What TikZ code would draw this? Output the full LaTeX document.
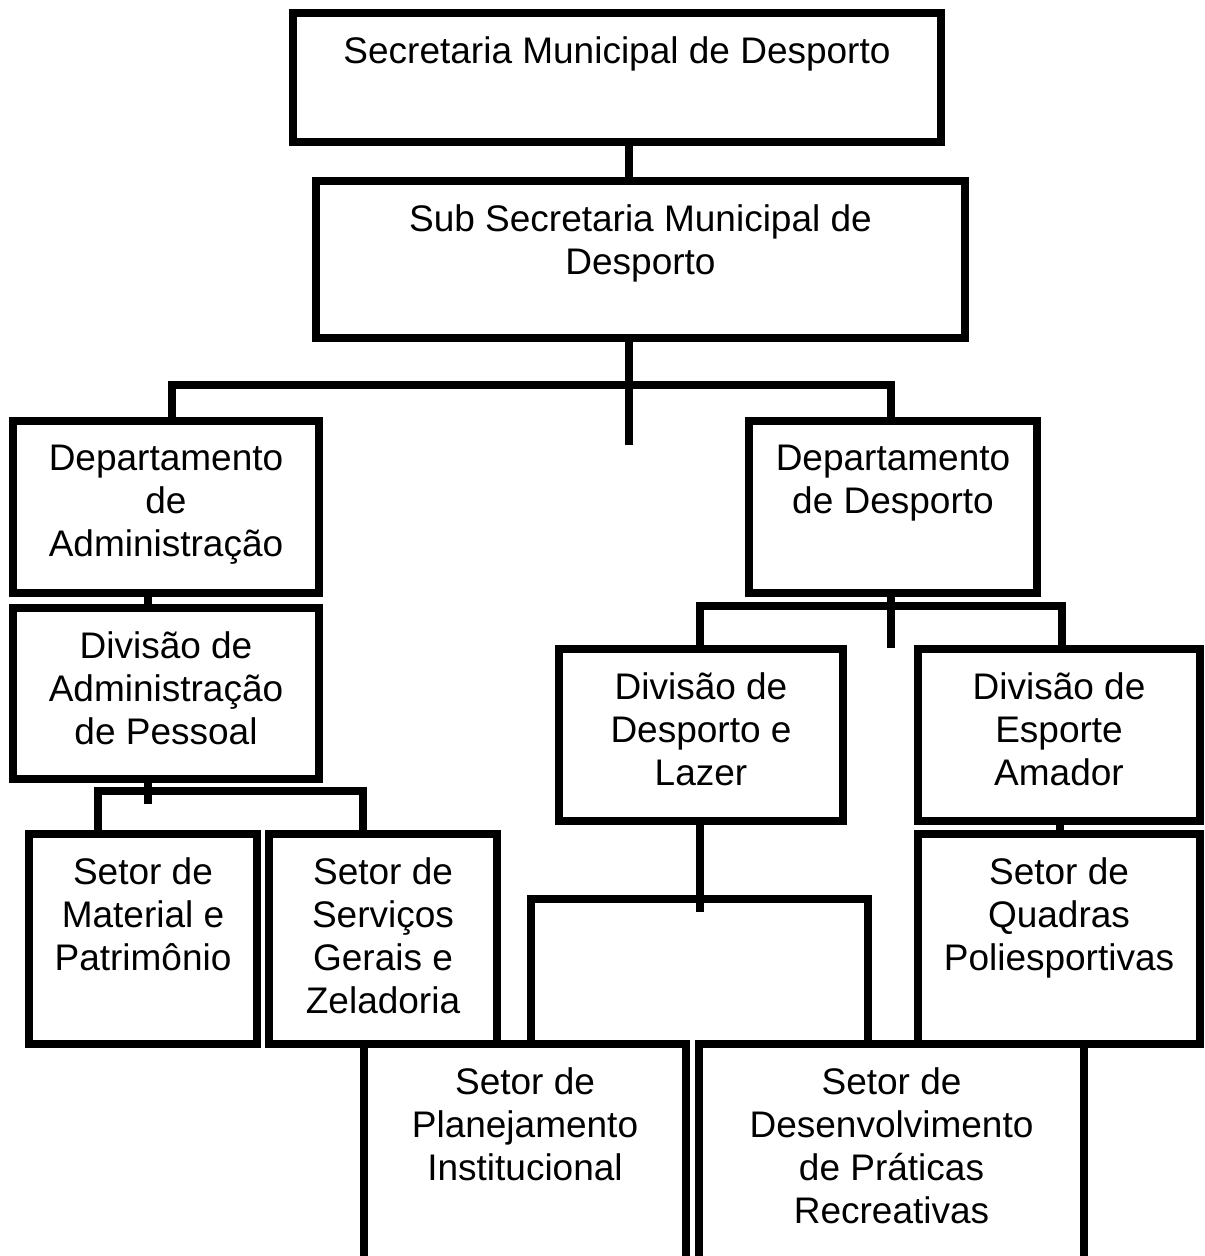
\documentclass[tikz,border=0pt]{standalone}
\usepackage{fontspec}
\setmainfont{Liberation Sans}
\usetikzlibrary{positioning}

\tikzset{
  caixa/.style={draw, line width=3.75pt, fill=white, rectangle, inner sep=0pt, outer sep=0pt, anchor=north west},
  rotulo/.style={align=center, inner sep=0pt, font=\fontsize{18.5}{21.5}\selectfont},
  ligacao/.style={line width=3.6pt},
}

\begin{document}
\begin{tikzpicture}[x=0.5pt,y=0.5pt,yscale=-1,xscale=1]
\useasboundingbox (0,0) rectangle (1204,1256);

%Shape: Rectangle [Secretaria]
\node[caixa, minimum width=324pt, minimum height=64.5pt] (sec) at (293,13) {};
%Shape: Rectangle [Sub Secretaria]
\node[caixa, minimum width=324.5pt, minimum height=78.5pt] (sub) at (316,181) {};
%Shape: Rectangle [Departamentos]
\node[caixa, minimum width=153pt, minimum height=86pt] (depadm) at (13,421) {};
\node[caixa, minimum width=144pt, minimum height=86pt] (depdesp) at (749,421) {};
%Shape: Rectangle [Divisoes]
\node[caixa, minimum width=153pt, minimum height=85.5pt] (divadm) at (13,608) {};
\node[caixa, minimum width=142pt, minimum height=86pt] (divlaz) at (559,649) {};
\node[caixa, minimum width=141pt, minimum height=86pt] (divesp) at (918,649) {};
%Shape: Rectangle [Setores]
\node[caixa, minimum width=114pt, minimum height=105pt] (setmat) at (29,834) {};
\node[caixa, minimum width=114pt, minimum height=105pt] (setserv) at (269,834) {};
\node[caixa, minimum width=141pt, minimum height=105pt] (setquad) at (918,834) {};
\node[caixa, minimum width=161pt, minimum height=128pt] (setplan) at (364,1044) {};
\node[caixa, minimum width=192.5pt, minimum height=128pt] (setdesv) at (699,1044) {};

%Junction points
\coordinate (t0) at (629,0);
\coordinate (t1) at (172,385);
\coordinate (t2) at (891,385);
\coordinate (t3) at (629,445);
\coordinate (a0) at (148,0);
\coordinate (a1) at (98,791);
\coordinate (a2) at (363,791);
\coordinate (a3) at (148,804);
\coordinate (d1) at (700,606);
\coordinate (d2) at (1062,606);
\coordinate (d3) at (891,648);
\coordinate (l1) at (531,899);
\coordinate (l2) at (868,899);
\coordinate (l3) at (700,912);
\coordinate (q0) at (1060,0);

%Straight Lines
\draw[ligacao] (sec.south -| t0) -- (sub.north -| t0);
\draw[ligacao] (sub.south -| t0) -- (t3);
\draw[ligacao] (depadm.north -| t1) |- (t2) -- (depdesp.north -| t2);
\draw[ligacao] (depadm.south -| a0) -- (divadm.north -| a0);
\draw[ligacao] (divadm.south -| a0) -- (a3);
\draw[ligacao] (setmat.north -| a1) |- (a2) -- (setserv.north -| a2);
\draw[ligacao] (depdesp.south -| d3) -- (d3);
\draw[ligacao] (divlaz.north -| d1) |- (d2) -- (divesp.north -| d2);
\draw[ligacao] (divlaz.south -| l3) -- (l3);
\draw[ligacao] (setplan.north -| l1) |- (l2) -- (setdesv.north -| l2);
\draw[ligacao] (divesp.south -| q0) -- (setquad.north -| q0);

% Text Node
\node[rotulo, below=11.75pt of sec.north] (secT) {Secretaria Municipal de Desporto};
\node[rotulo, below=11.75pt of sub.north] (subT) {Sub Secretaria Municipal de\\Desporto};
\node[rotulo, below=11.75pt of depadm.north] (depadmT) {Departamento\\de\\Administração};
\node[rotulo, below=11.75pt of depdesp.north] (depdespT) {Departamento\\de Desporto};
\node[rotulo, below=11.75pt of divadm.north] (divadmT) {Divisão de\\Administração\\de Pessoal};
\node[rotulo, below=11.75pt of divlaz.north] (divlazT) {Divisão de\\Desporto e\\Lazer};
\node[rotulo, below=11.75pt of divesp.north] (divespT) {Divisão de\\Esporte\\Amador};
\node[rotulo, below=11.75pt of setmat.north] (setmatT) {Setor de\\Material e\\Patrimônio};
\node[rotulo, below=11.75pt of setserv.north] (setservT) {Setor de\\Serviços\\Gerais e\\Zeladoria};
\node[rotulo, below=11.75pt of setquad.north] (setquadT) {Setor de\\Quadras\\Poliesportivas};
\node[rotulo, below=11.75pt of setplan.north] (setplanT) {Setor de\\Planejamento\\Institucional};
\node[rotulo, below=11.75pt of setdesv.north] (setdesvT) {Setor de\\Desenvolvimento\\de Práticas\\Recreativas};

\end{tikzpicture}
\end{document}
